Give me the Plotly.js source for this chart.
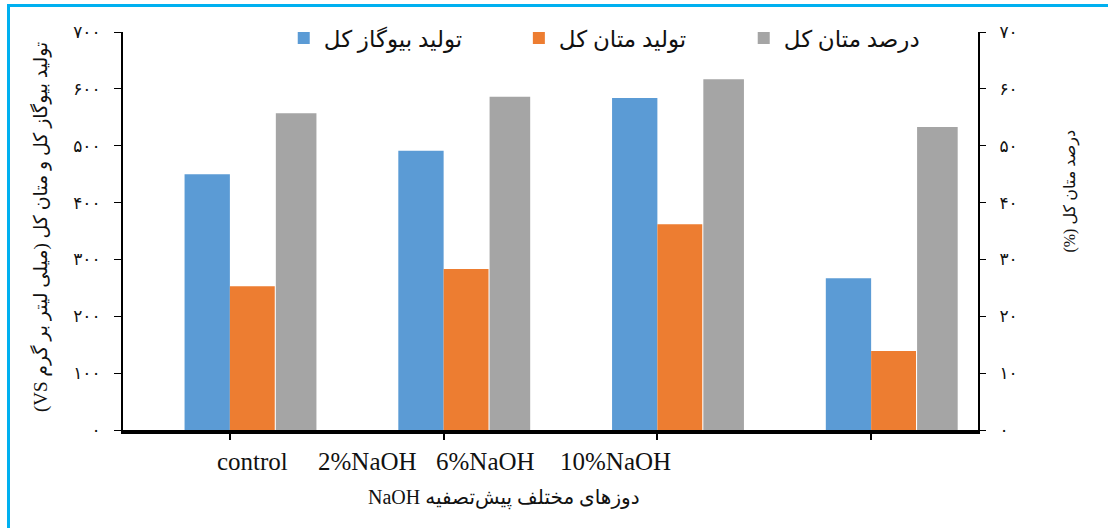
<!DOCTYPE html>
<html>
<head>
<meta charset="utf-8">
<script src="https://cdn.plot.ly/plotly-3.0.1.min.js"></script>
<style>
  html, body { margin: 0; padding: 0; background: #ffffff; }
  #wrap { position: relative; width: 1108px; height: 528px; overflow: hidden; }
  #chart { position: absolute; left: 0; top: 0; width: 1108px; height: 528px; }
  #frame { position: absolute; left: 7px; top: 4px; width: 1110px; height: 540px;
           border-left: 3px solid #00B0F0; border-top: 3px solid #00B0F0; pointer-events: none; }
</style>
</head>
<body>
<div id="wrap">
  <div id="chart"></div>
  <div id="frame"></div>
</div>
<script>
// ---- data ----
const categories = ['control', '2%NaOH', '6%NaOH', '10%NaOH'];
const biogasTotal = [450, 491, 584, 267];        // تولید بیوگاز کل (mL/g VS)
const methaneTotal = [253, 283, 362, 139];       // تولید متان کل (mL/g VS)
const methanePercent = [55.7, 58.6, 61.7, 53.3]; // درصد متان کل (%)

const seriesNames = ['تولید بیوگاز کل', 'تولید متان کل', 'درصد متان کل'];
const leftTickVals = [0, 100, 200, 300, 400, 500, 600, 700];
const leftTickText = ['۰', '۱۰۰', '۲۰۰', '۳۰۰', '۴۰۰', '۵۰۰', '۶۰۰', '۷۰۰'];
const rightTickVals = [0, 10, 20, 30, 40, 50, 60, 70];
const rightTickText = ['۰', '۱۰', '۲۰', '۳۰', '۴۰', '۵۰', '۶۰', '۷۰'];

const leftTitle = 'تولید بیوگاز کل و متان کل (میلی لیتر بر گرم VS)';
const rightTitle = 'درصد متان کل (%)';
const xTitle = 'دوزهای مختلف پیش‌تصفیه NaOH';

// ---- styling ----
const RTL = s => '\u202B' + s + '\u202C';
const serif = 'Liberation Serif, DejaVu Serif, DejaVu Sans, serif';
const persian = 'Liberation Serif, DejaVu Sans, serif';
const xIdx = categories.map((c, i) => i);

const traces = [
  { type: 'bar', name: RTL(seriesNames[0]), x: xIdx, y: biogasTotal, legend: 'legend',
    marker: { color: '#5B9BD5' }, offset: -0.212, width: 0.212, yaxis: 'y' },
  { type: 'bar', name: RTL(seriesNames[1]), x: xIdx, y: methaneTotal, legend: 'legend2',
    marker: { color: '#ED7D31' }, offset: 0.0, width: 0.21, yaxis: 'y' },
  { type: 'bar', name: RTL(seriesNames[2]), x: xIdx, y: methanePercent, legend: 'legend3',
    marker: { color: '#A5A5A5' }, offset: 0.215, width: 0.19, yaxis: 'y2' }
];

// category labels placed under the axis, as in the reference
const labelX = [0.151, 0.286, 0.424, 0.576];
const annotations = categories.map((c, i) => ({
  text: c, xref: 'paper', yref: 'paper', x: labelX[i], y: -0.078,
  xanchor: 'center', yanchor: 'middle', showarrow: false,
  font: { family: serif, size: 25, color: '#111' }
}));
annotations.push({
  text: RTL(xTitle), xref: 'paper', yref: 'paper', x: 0.446, y: -0.17,
  xanchor: 'center', yanchor: 'middle', showarrow: false,
  font: { family: persian, size: 20, color: '#111' }
});
annotations.push({
  text: RTL(leftTitle), xref: 'paper', yref: 'paper', x: -0.097, y: 0.51,
  xanchor: 'center', yanchor: 'middle', showarrow: false, textangle: -90,
  font: { family: persian, size: 19, color: '#111' }
});
annotations.push({
  text: RTL(rightTitle), xref: 'paper', yref: 'paper', x: 1.108, y: 0.6,
  xanchor: 'center', yanchor: 'middle', showarrow: false, textangle: -90,
  font: { family: persian, size: 16, color: '#111' }
});

const legendBase = {
  orientation: 'h', xanchor: 'left', y: 0.985, yanchor: 'middle',
  font: { family: persian, size: 23, color: '#111' }, bgcolor: 'rgba(0,0,0,0)'
};

const layout = {
  width: 1108, height: 528,
  margin: { l: 123, r: 130, t: 32, b: 98 },
  paper_bgcolor: '#ffffff', plot_bgcolor: '#ffffff',
  barmode: 'overlay',
  showlegend: true,
  legend: Object.assign({}, legendBase, { x: 0.188 }),
  legend2: Object.assign({}, legendBase, { x: 0.463 }),
  legend3: Object.assign({}, legendBase, { x: 0.726 }),
  xaxis: {
    type: 'linear', range: [-0.5, 3.5],
    tickvals: xIdx, showticklabels: false,
    ticks: 'outside', ticklen: 6, tickwidth: 2, tickcolor: '#000',
    showline: true, linewidth: 4, linecolor: '#000',
    showgrid: false, zeroline: false, fixedrange: true
  },
  yaxis: {
    range: [0, 700], tickvals: leftTickVals, ticktext: leftTickText,
    ticks: 'outside', ticklen: 7, tickwidth: 1, tickcolor: '#000',
    showline: true, linewidth: 2, linecolor: '#000',
    showgrid: false, zeroline: false, ticklabelstandoff: 10,
    tickfont: { family: persian, size: 17, color: '#111' }
  },
  yaxis2: {
    range: [0, 70], overlaying: 'y', side: 'right',
    tickvals: rightTickVals, ticktext: rightTickText,
    ticks: 'outside', ticklen: 6, tickwidth: 1, tickcolor: '#000',
    showline: true, linewidth: 2, linecolor: '#000',
    showgrid: false, zeroline: false, ticklabelstandoff: 10,
    tickfont: { family: persian, size: 17, color: '#111' }
  },
  annotations: annotations
};

Plotly.newPlot('chart', traces, layout, { displayModeBar: false, staticPlot: true });
</script>
</body>
</html>
